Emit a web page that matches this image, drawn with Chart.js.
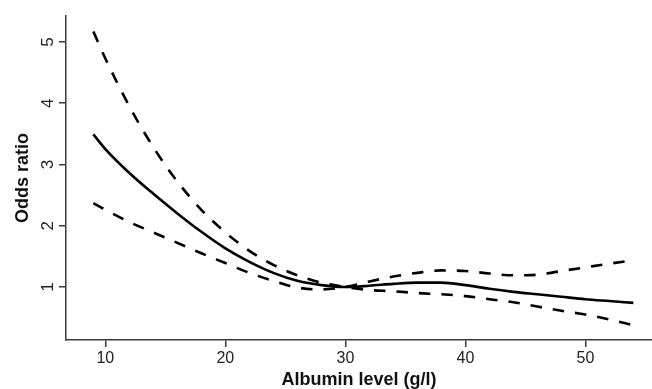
<!DOCTYPE html>
<html lang="en">
<head>
<meta charset="UTF-8">
<title>Odds ratio by albumin level</title>
<script src="https://cdn.jsdelivr.net/npm/chart.js"></script>
<style>
  html, body { margin: 0; padding: 0; background: #fff; }
  #wrap { width: 652px; height: 389px; }
</style>
</head>
<body>
<div id="wrap"><canvas id="chart" width="652" height="389"></canvas></div>
<script>
// albumin level (g/l) sample points
const albumin = [9, 10, 12, 14, 16, 18, 20, 22, 24, 26, 28, 30, 32, 34, 36, 38, 40, 42, 44, 46, 48, 50, 52, 54];
// fitted odds ratio
const oddsRatio = [3.49, 3.25, 2.86, 2.52, 2.20, 1.90, 1.63, 1.41, 1.23, 1.10, 1.03, 1.00, 1.02, 1.05, 1.07, 1.07, 1.03, 0.97, 0.92, 0.88, 0.84, 0.80, 0.77, 0.74];
// confidence band, branch that is high on the left
const ciHighLeft = [5.17, 4.73, 3.95, 3.28, 2.72, 2.26, 1.89, 1.59, 1.36, 1.19, 1.07, 1.00, 0.95, 0.93, 0.90, 0.88, 0.85, 0.80, 0.75, 0.68, 0.61, 0.55, 0.47, 0.376];
// confidence band, branch that is low on the left
const ciLowLeft = [2.37, 2.26, 2.06, 1.89, 1.72, 1.55, 1.39, 1.23, 1.10, 0.99, 0.96, 1.00, 1.09, 1.17, 1.23, 1.27, 1.26, 1.22, 1.19, 1.20, 1.26, 1.32, 1.38, 1.435];

const xTicks = [10, 20, 30, 40, 50];
const yTicks = [1, 2, 3, 4, 5];

const pts = ys => albumin.map((x, i) => ({ x: x, y: ys[i] }));
const axisColor = '#3a3a3a';
const fontFamily = 'Liberation Sans, Arial, sans-serif';
const titleFont = { family: fontFamily, size: 18, weight: 'bold', lineHeight: 1 };

const lineStyle = {
  borderColor: '#000',
  borderWidth: 2.6,
  pointRadius: 0,
  fill: false,
  cubicInterpolationMode: 'monotone'
};

new Chart(document.getElementById('chart'), {
  type: 'line',
  data: {
    datasets: [
      Object.assign({ label: 'Odds ratio', data: pts(oddsRatio) }, lineStyle),
      Object.assign({ label: 'CI', data: pts(ciHighLeft), borderDash: [11.5, 11] }, lineStyle),
      Object.assign({ label: 'CI', data: pts(ciLowLeft), borderDash: [11.5, 11] }, lineStyle)
    ]
  },
  options: {
    responsive: false,
    animation: false,
    layout: { padding: { top: 13, right: 0, left: 0, bottom: 0 } },
    plugins: { legend: { display: false }, tooltip: { enabled: false } },
    scales: {
      x: {
        type: 'linear',
        min: 6.72,
        max: 55.55,
        afterBuildTicks: s => { s.ticks = xTicks.map(v => ({ value: v })); },
        afterFit: s => { s.height = 49; },
        grid: { drawOnChartArea: false, drawTicks: true, tickLength: 7, color: axisColor, lineWidth: 1.5 },
        border: { display: true, color: axisColor, width: 1.5 },
        ticks: { color: '#222', font: { family: fontFamily, size: 16 }, padding: 2, maxRotation: 0 },
        title: { display: true, text: 'Albumin level (g/l)', color: '#111', font: titleFont, padding: { top: 0, bottom: 0 } }
      },
      y: {
        type: 'linear',
        min: 0.134,
        max: 5.42,
        afterBuildTicks: s => { s.ticks = yTicks.map(v => ({ value: v })); },
        afterFit: s => { s.width = 66; },
        grid: { drawOnChartArea: false, drawTicks: true, tickLength: 7, color: axisColor, lineWidth: 1.5 },
        border: { display: true, color: axisColor, width: 1.5 },
        ticks: { color: '#222', font: { family: fontFamily, size: 17 }, padding: 6, minRotation: 90, maxRotation: 90, crossAlign: 'center' },
        title: { display: true, text: 'Odds ratio', color: '#111', font: titleFont, padding: { top: 14, bottom: 0 } }
      }
    }
  }
});
</script>
</body>
</html>
